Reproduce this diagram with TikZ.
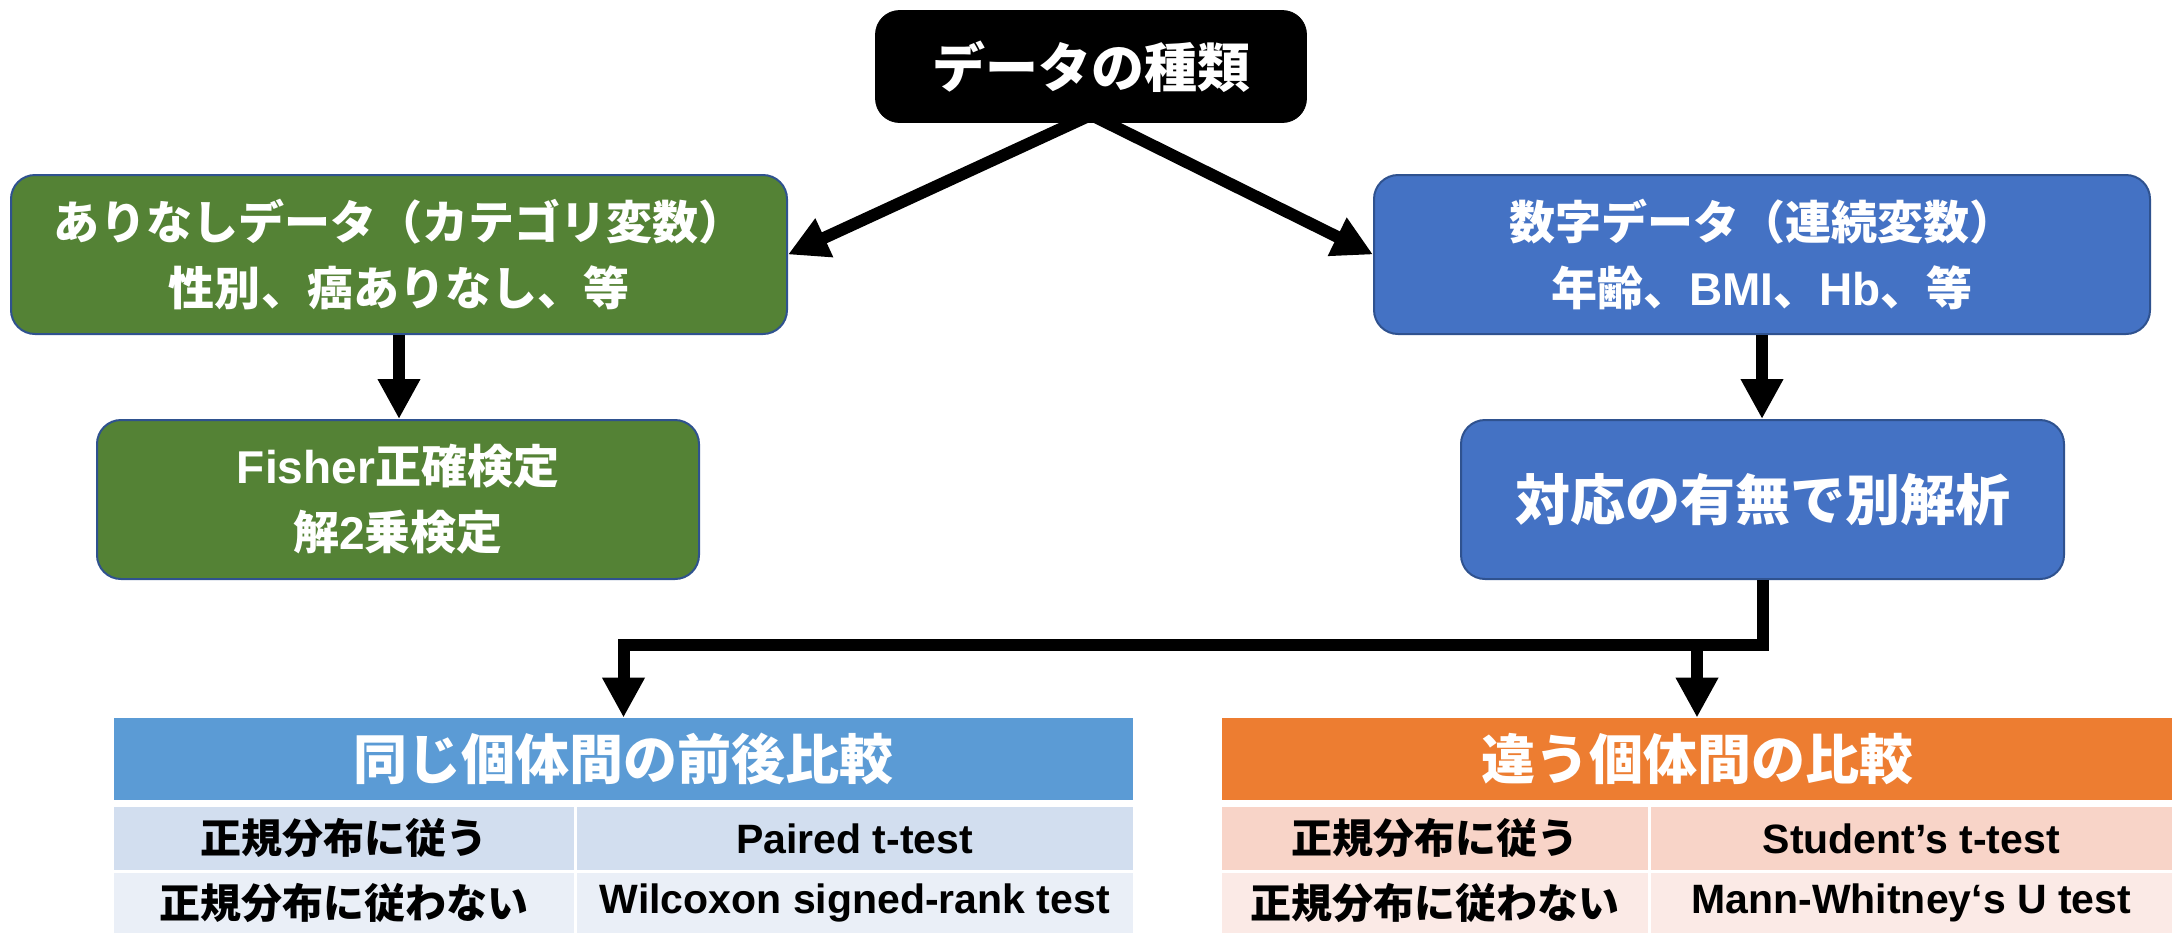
\documentclass[tikz,border=0pt]{standalone}
\usepackage{fontspec}
\setmainfont{Liberation Sans}
\newfontfamily\cjk{Noto Sans CJK JP}
\usetikzlibrary{arrows.meta}
\definecolor{gfill}{HTML}{548235}
\definecolor{bfill}{HTML}{4472C4}
\definecolor{boutline}{HTML}{2F528F}
\definecolor{hblue}{HTML}{5B9BD5}
\definecolor{rblueA}{HTML}{D2DEEF}
\definecolor{rblueB}{HTML}{EAEFF7}
\definecolor{horange}{HTML}{ED7D31}
\definecolor{rorgA}{HTML}{F8D4C8}
\definecolor{rorgB}{HTML}{FBEAE6}
\newcommand\lb[1]{{\rmfamily\mdseries\bfseries #1}}
\begin{document}
\begin{tikzpicture}[x=0.5pt,y=-0.5pt,
  flowbox/.style={rounded corners=12pt, draw=boutline, line width=1pt, text=white,
    align=center, inner sep=0pt, font=\cjk\bfseries\fontsize{23}{33}\selectfont},
  gbox/.style={flowbox, fill=gfill},
  bbox/.style={flowbox, fill=bfill},
  topbox/.style={rounded corners=12pt, fill=black, draw=black, text=white,
    inner sep=0pt, font=\cjk\bfseries\fontsize{26.5}{30}\selectfont},
  hcell/.style={inner sep=0pt, text=white, minimum height=41pt,
    font=\cjk\bfseries\fontsize{27}{30}\selectfont},
  bcell/.style={inner sep=0pt, text=black,
    font=\cjk\bfseries\fontsize{20.5}{24}\selectfont},
  arr/.style={line width=6pt, -{Triangle[length=20pt,width=20pt]}}
]
\useasboundingbox (0,0) rectangle (2172,933);

% top
\node[topbox, minimum width=215.5pt, minimum height=56pt] (top) at (1091,66.5) {データの種類};

% level 1
\node[gbox, minimum width=388pt, minimum height=79.5pt] (g1) at (399,254.5)
  {ありなしデータ（カテゴリ変数）\\性別、癌ありなし、等};
\node[bbox, minimum width=388pt, minimum height=79.5pt] (b1) at (1762,254.5)
  {数字データ（連続変数）\\年齢、\lb{BMI}、\lb{Hb}、等};

% level 2
\node[gbox, minimum width=301pt, minimum height=79.5pt] (g2) at (398,499.5)
  {\lb{Fisher}正確検定\\解\lb{2}乗検定};
\node[bbox, minimum width=301.5pt, minimum height=79.5pt,
  font=\cjk\bfseries\fontsize{27.5}{33}\selectfont] (b2) at (1762.5,499.5)
  {対応の有無で別解析};

% left table
\node[hcell, fill=hblue, minimum width=509.5pt] (h1) at (623.5,759) {同じ個体間の前後比較};
\node[bcell, fill=rblueA, minimum width=229.75pt, minimum height=31.5pt] (l11) at (343.75,838.5) {正規分布に従う};
\node[bcell, fill=rblueA, minimum width=278.25pt, minimum height=31.5pt] (l12) at (854.75,838.5) {\lb{Paired t-test}};
\node[bcell, fill=rblueB, minimum width=229.75pt, minimum height=30pt] (l21) at (343.75,903) {正規分布に従わない};
\node[bcell, fill=rblueB, minimum width=278.25pt, minimum height=30pt] (l22) at (854.75,903) {\lb{Wilcoxon signed-rank test}};

% right table
\node[hcell, fill=horange, minimum width=475pt] (h2) at (1697,759) {違う個体間の比較};
\node[bcell, fill=rorgA, minimum width=212.75pt, minimum height=31.5pt] (r11) at (1434.75,838.5) {正規分布に従う};
\node[bcell, fill=rorgA, minimum width=260.75pt, minimum height=31.5pt] (r12) at (1911.25,838.5) {\lb{Student's t-test}};
\node[bcell, fill=rorgB, minimum width=212.75pt, minimum height=30pt] (r21) at (1434.75,903) {正規分布に従わない};
\node[bcell, fill=rorgB, minimum width=260.75pt, minimum height=30pt] (r22) at (1911.25,903) {\lb{Mann-Whitney‘s U test}};

% connectors
\draw[arr] ([yshift=4pt]top.south) -- (g1.east);
\draw[arr] ([yshift=4pt]top.south) -- (b1.west);
\draw[arr] (g1.south) -- (g1.south |- g2.north);
\draw[arr] (b1.south) -- (b1.south |- b2.north);
\draw[arr] (b2.south) -- ++(0,65) coordinate (j) -| (h1.north);
\draw[arr] (j) -| (h2.north);
\end{tikzpicture}
\end{document}
